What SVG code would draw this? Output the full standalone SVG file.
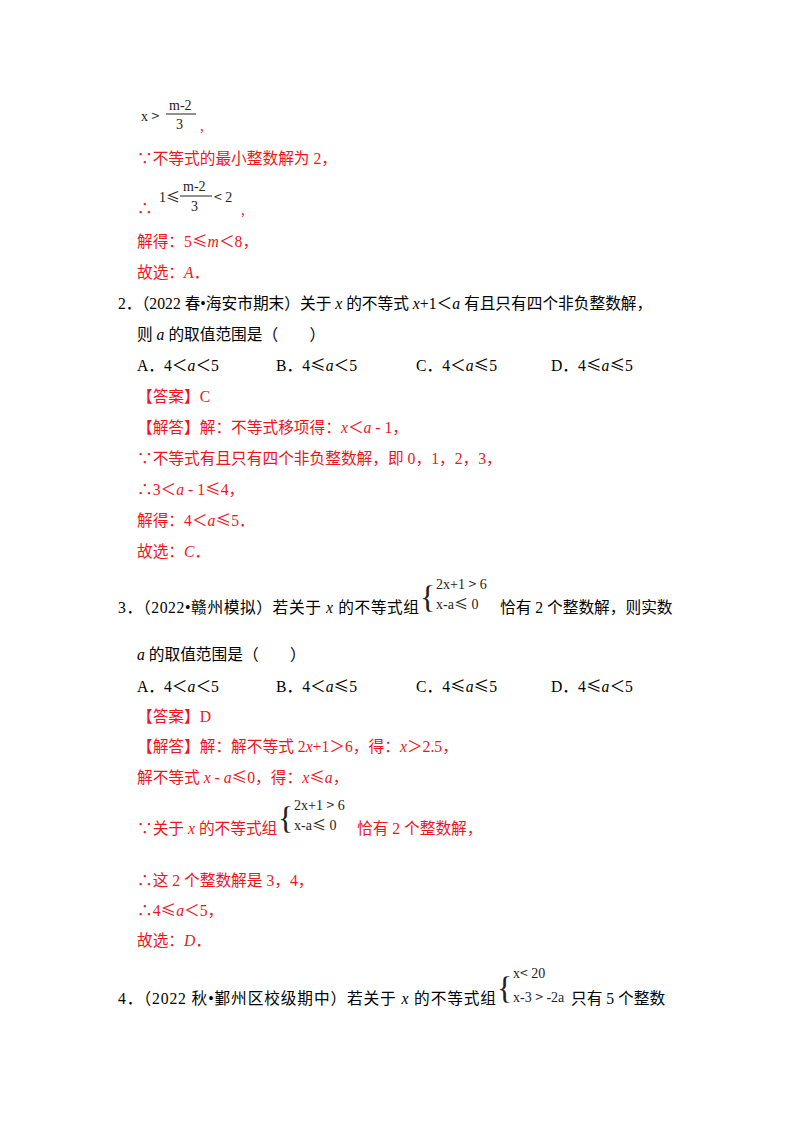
<svg xmlns="http://www.w3.org/2000/svg" width="800" height="1132" viewBox="0 0 800 1132">
<style>
text{font-family:"Liberation Serif","Noto Sans CJK SC",serif;font-size:15.7px;fill:#000}
.r{fill:#f0141e}
.m{font-family:"Liberation Serif","Noto Sans CJK SC",serif;font-size:14px;fill:#222}
.i{font-style:italic}
.s{font-family:"Noto Sans CJK SC",sans-serif}
.b{font-family:"Liberation Serif",serif;font-size:32px;fill:#222;font-weight:100}
</style>
<rect width="800" height="1132" fill="#fff"/>
<g id="frac1">
<text class="m" x="141" y="121">x <tspan class="s">&gt;</tspan></text>
<text class="m" x="169" y="110">m-2</text>
<line x1="166" y1="114" x2="196" y2="114" stroke="#222"/>
<text class="m" x="176" y="129">3</text>
<text class="r" x="200" y="131">,</text>
</g>
<text class="r" x="137" y="164">∵不等式的最小整数解为 2，</text>
<g id="frac2">
<text class="r" x="137" y="214">∴</text>
<text class="m" x="159" y="202">1<tspan class="s">≤</tspan></text>
<text class="m" x="183" y="191">m-2</text>
<line x1="180" y1="196" x2="212" y2="196" stroke="#222"/>
<text class="m" x="191" y="211">3</text>
<text class="m" x="214" y="202"><tspan class="s">&lt;</tspan> 2</text>
<text class="r" x="241" y="215">,</text>
</g>
<text class="r" x="137" y="247">解得：5<tspan class="s">≤</tspan><tspan class="i">m</tspan>＜8，</text>
<text class="r" x="137" y="278">故选：<tspan class="i">A</tspan>．</text>

<text x="118" y="309">2．（2022 春•海安市期末）关于 <tspan class="i">x</tspan> 的不等式 <tspan class="i">x</tspan>+1＜<tspan class="i">a</tspan> 有且只有四个非负整数解，</text>
<text x="137" y="340">则 <tspan class="i">a</tspan> 的取值范围是（　　）</text>
<text x="137" y="371">A．4＜<tspan class="i">a</tspan>＜5</text>
<text x="276" y="371">B．4<tspan class="s">≤</tspan><tspan class="i">a</tspan>＜5</text>
<text x="416" y="371">C．4＜<tspan class="i">a</tspan><tspan class="s">≤</tspan>5</text>
<text x="551" y="371">D．4<tspan class="s">≤</tspan><tspan class="i">a</tspan><tspan class="s">≤</tspan>5</text>
<text class="r" x="137" y="402">【答案】C</text>
<text class="r" x="137" y="433">【解答】解：不等式移项得：<tspan class="i">x</tspan>＜<tspan class="i">a</tspan> - 1，</text>
<text class="r" x="137" y="464">∵不等式有且只有四个非负整数解，即 0，1，2，3，</text>
<text class="r" x="137" y="495">∴3＜<tspan class="i">a</tspan> - 1<tspan class="s">≤</tspan>4，</text>
<text class="r" x="137" y="526">解得：4＜<tspan class="i">a</tspan><tspan class="s">≤</tspan>5．</text>
<text class="r" x="137" y="557">故选：<tspan class="i">C</tspan>．</text>

<text x="118" y="613" textLength="301" lengthAdjust="spacing">3．（2022•赣州模拟）若关于 <tspan class="i">x</tspan> 的不等式组</text>
<g id="sys3">
<text class="b" x="420" y="608">{</text>
<text class="m" x="436" y="589">2x+1 <tspan class="s">&gt;</tspan> 6</text>
<text class="m" x="436" y="609">x-a<tspan class="s">≤</tspan> 0</text>
</g>
<text x="500" y="613">恰有 2 个整数解，则实数</text>
<text x="137" y="660"><tspan class="i">a</tspan> 的取值范围是（　　）</text>
<text x="137" y="692">A．4＜<tspan class="i">a</tspan>＜5</text>
<text x="276" y="692">B．4＜<tspan class="i">a</tspan><tspan class="s">≤</tspan>5</text>
<text x="416" y="692">C．4<tspan class="s">≤</tspan><tspan class="i">a</tspan><tspan class="s">≤</tspan>5</text>
<text x="551" y="692">D．4<tspan class="s">≤</tspan><tspan class="i">a</tspan>＜5</text>
<text class="r" x="137" y="722">【答案】D</text>
<text class="r" x="137" y="752">【解答】解：解不等式 2<tspan class="i">x</tspan>+1＞6，得：<tspan class="i">x</tspan>＞2.5，</text>
<text class="r" x="137" y="783">解不等式 <tspan class="i">x</tspan> - <tspan class="i">a</tspan><tspan class="s">≤</tspan>0，得：<tspan class="i">x</tspan><tspan class="s">≤</tspan><tspan class="i">a</tspan>，</text>
<text class="r" x="137" y="834">∵关于 <tspan class="i">x</tspan> 的不等式组</text>
<g id="sys3b">
<text class="b" x="278" y="829">{</text>
<text class="m" x="294" y="810">2x+1 <tspan class="s">&gt;</tspan> 6</text>
<text class="m" x="294" y="830">x-a<tspan class="s">≤</tspan> 0</text>
</g>
<text class="r" x="357" y="834">恰有 2 个整数解，</text>
<text class="r" x="137" y="886">∴这 2 个整数解是 3，4，</text>
<text class="r" x="137" y="916">∴4<tspan class="s">≤</tspan><tspan class="i">a</tspan>＜5，</text>
<text class="r" x="137" y="946">故选：<tspan class="i">D</tspan>．</text>

<text x="118" y="1004" textLength="378" lengthAdjust="spacing">4．（2022 秋•鄞州区校级期中）若关于 <tspan class="i">x</tspan> 的不等式组</text>
<g id="sys4">
<text class="b" x="497" y="999">{</text>
<text class="m" x="513" y="978">x<tspan class="s">&lt;</tspan> 20</text>
<text class="m" x="513" y="1002">x-3 <tspan class="s">&gt;</tspan> -2a</text>
</g>
<text x="571" y="1004">只有 5 个整数</text>
</svg>
